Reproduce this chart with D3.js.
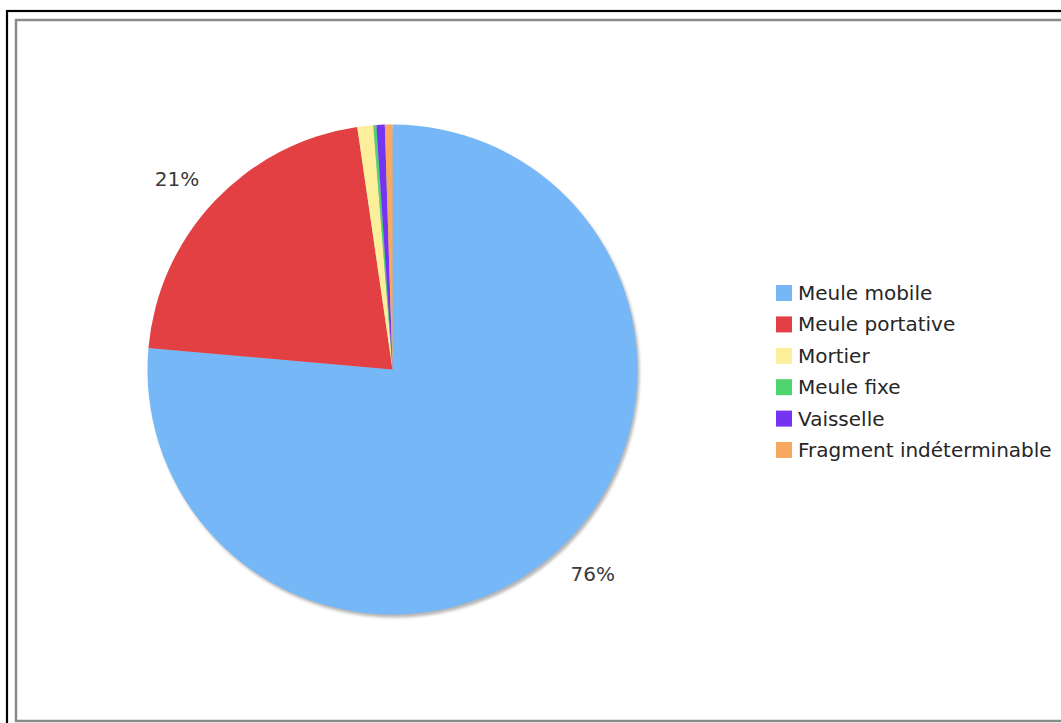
<!DOCTYPE html>
<html>
<head>
<meta charset="utf-8">
<script src="https://cdn.jsdelivr.net/npm/d3@7"></script>
<style>
  html, body { margin: 0; padding: 0; background: #fff; }
  svg { display: block; }
</style>
</head>
<body>
<svg id="chart" width="1061" height="723"></svg>
<script>
const categories = ["Meule mobile", "Meule portative", "Mortier", "Meule fixe", "Vaisselle", "Fragment indéterminable"];
const values = [76.4, 21.3, 1.05, 0.2, 0.55, 0.5];
const colors = ["#75b7f7", "#e24043", "#fbef9c", "#4fd36c", "#7435f3", "#f7a961"];
const shownLabels = ["76%", "21%", "", "", "", ""];

const svg = d3.select("#chart");

// frames
svg.append("rect").attr("x", 7).attr("y", 11).attr("width", 1070).attr("height", 730)
  .attr("fill", "none").attr("stroke", "#000").attr("stroke-width", 2.2);
svg.append("rect").attr("x", 16).attr("y", 20).attr("width", 1060).attr("height", 701)
  .attr("fill", "#fff").attr("stroke", "#8a8a8a").attr("stroke-width", 2.5);

const cx = 392.5, cy = 369.5, r = 245;

const defs = svg.append("defs");
const f = defs.append("filter").attr("id", "shadow").attr("x", "-10%").attr("y", "-10%").attr("width", "120%").attr("height", "120%");
f.append("feGaussianBlur").attr("stdDeviation", 1.5);

const g = svg.append("g").attr("transform", `translate(${cx},${cy})`);

g.append("circle").attr("cx", 2).attr("cy", 3).attr("r", r).attr("fill", "#b5b5b5")
  .attr("filter", "url(#shadow)");

const pie = d3.pie().sort(null).value(d => d.v);
const data = pie(categories.map((c, i) => ({ c, v: values[i], i })));
const arc = d3.arc().innerRadius(0).outerRadius(r);
const labelArc = d3.arc().innerRadius(r * 1.175).outerRadius(r * 1.175);

g.selectAll("path.slice").data(data).join("path")
  .attr("class", "slice")
  .attr("d", arc)
  .attr("fill", d => colors[d.data.i]);

g.selectAll("text.lbl").data(data.filter(d => shownLabels[d.data.i])).join("text")
  .attr("class", "lbl")
  .attr("transform", d => { const [x, y] = labelArc.centroid(d); return `translate(${x * 1.03},${y * 0.965})`; })
  .attr("text-anchor", "middle")
  .attr("dominant-baseline", "central")
  .attr("font-family", "DejaVu Sans, Verdana, sans-serif")
  .attr("font-size", 20)
  .attr("fill", "#3a3a3a")
  .text(d => shownLabels[d.data.i]);

// legend
const lg = svg.append("g").attr("transform", "translate(776,293)");
const rows = lg.selectAll("g").data(categories).join("g")
  .attr("transform", (d, i) => `translate(0,${i * 31.4})`);
rows.append("rect").attr("x", 0).attr("y", -8).attr("width", 16).attr("height", 16)
  .attr("fill", (d, i) => colors[i]);
rows.append("text").attr("x", 22).attr("y", 0)
  .attr("dominant-baseline", "central")
  .attr("font-family", "DejaVu Sans, Verdana, sans-serif")
  .attr("font-size", 20)
  .attr("fill", "#262626")
  .text(d => d);
</script>
</body>
</html>
